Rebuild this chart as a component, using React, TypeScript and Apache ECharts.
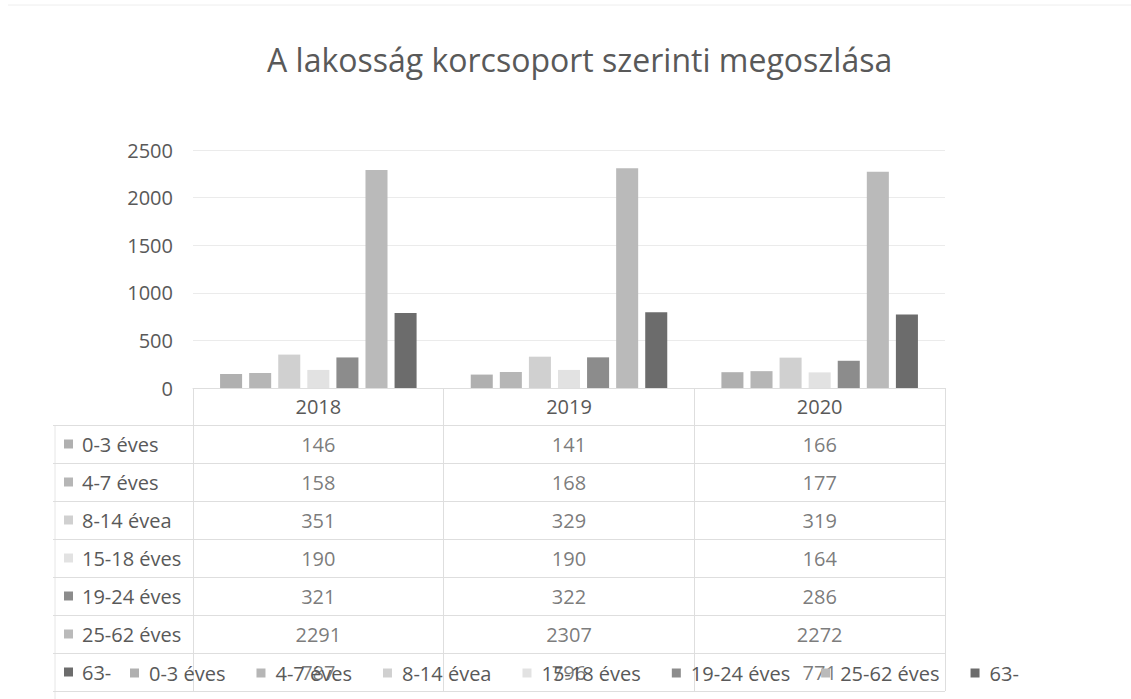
import React, { useEffect, useRef } from "react";
import * as echarts from "echarts";

const years = ["2018", "2019", "2020"];
const groups = ["0-3 éves", "4-7 éves", "8-14 évea", "15-18 éves", "19-24 éves", "25-62 éves", "63-"];
const g0_3 = [146, 141, 166];
const g4_7 = [158, 168, 177];
const g8_14 = [351, 329, 319];
const g15_18 = [190, 190, 164];
const g19_24 = [321, 322, 286];
const g25_62 = [2291, 2307, 2272];
const g63 = [787, 796, 771];
const groupValues = [g0_3, g4_7, g8_14, g15_18, g19_24, g25_62, g63];
const yTicks = { min: 0, max: 2500, interval: 500 };
const colors = ["#b0b0b0", "#b6b6b6", "#d0d0d0", "#e2e2e2", "#8c8c8c", "#bababa", "#6c6c6c"];

const FONT = "Open Sans";
const TXT = "#595959";
const LINE = "#dedede";
const FS = 20;

export default function App() {
  const ref = useRef<HTMLDivElement>(null);
  useEffect(() => {
    if (!ref.current) return;
    const chart = echarts.init(ref.current, null, { renderer: "svg" });
    const rich: any = {
      t: { fontSize: FS, color: TXT, fontFamily: FONT, padding: [0, 0, 0, 9] },
    };
    colors.forEach((c, i) => {
      rich["m" + i] = { width: 9, height: 9, backgroundColor: c };
    });
    const cellData: any[] = [];
    groupValues.forEach((arr, r) => {
      arr.forEach((v, c) => cellData.push([c, r, v]));
    });
    chart.setOption({
      animation: false,
      textStyle: { fontFamily: FONT },
      title: {
        text: "A lakosság korcsoport szerinti megoszlása",
        left: 262,
        top: 38,
        textStyle: { fontSize: 32, fontWeight: "normal", color: TXT, fontFamily: FONT },
      },
      legend: {
        data: groups,
        left: 125,
        top: 658,
        itemWidth: 9,
        itemHeight: 9,
        itemGap: 31,
        icon: "rect",
        textStyle: { fontSize: FS, color: TXT, fontFamily: FONT, padding: [0, 0, 0, 5] },
      },
      grid: [
        { left: 193, right: 186, top: 150, bottom: 311 },
        { left: 193, right: 186, top: 425, bottom: 8 },
      ],
      xAxis: [
        {
          type: "category",
          gridIndex: 0,
          data: years,
          axisLine: { lineStyle: { color: LINE } },
          axisTick: { show: true, length: 37, alignWithLabel: false, lineStyle: { color: LINE } },
          axisLabel: { fontSize: FS, color: TXT, margin: 8, fontFamily: FONT },
        },
        {
          type: "category",
          gridIndex: 1,
          data: years,
          axisLine: { show: false },
          axisTick: { show: false },
          axisLabel: { show: false },
          splitLine: { show: true, lineStyle: { color: LINE } },
        },
      ],
      yAxis: [
        {
          type: "value",
          gridIndex: 0,
          min: yTicks.min,
          max: yTicks.max,
          interval: yTicks.interval,
          axisLine: { show: false },
          axisTick: { show: false },
          axisLabel: {
            fontSize: FS,
            color: TXT,
            margin: 20,
            fontFamily: FONT,
            formatter: (v: number) => String(v),
          },
          splitLine: { lineStyle: { color: "#ebebeb" } },
        },
        {
          type: "category",
          gridIndex: 1,
          data: groups,
          inverse: true,
          axisLine: { show: false },
          axisTick: { show: true, length: 140, lineStyle: { color: LINE } },
          axisLabel: {
            align: "left",
            margin: 129,
            formatter: (v: string, i: number) => `{m${i}|}{t|${v}}`,
            rich,
          },
          splitLine: { show: true, lineStyle: { color: LINE } },
        },
      ],
      graphic: [
        { type: "line", shape: { x1: 55, y1: 425, x2: 55, y2: 699 }, style: { stroke: "#e6e6e6", lineWidth: 1 } },
        { type: "line", shape: { x1: 8, y1: 5, x2: 1131, y2: 5 }, style: { stroke: "#eeeeee", lineWidth: 1 } },
      ],
      series: [
        ...groups.map((name, i) => ({
          name,
          type: "bar",
          xAxisIndex: 0,
          yAxisIndex: 0,
          data: groupValues[i],
          itemStyle: { color: colors[i] },
          barGap: "32%",
          barCategoryGap: "21.6%",
        })),
        {
          name: "table",
          type: "scatter",
          xAxisIndex: 1,
          yAxisIndex: 1,
          data: cellData,
          symbolSize: 1,
          itemStyle: { color: "transparent" },
          silent: true,
          label: {
            show: true,
            position: "inside",
            formatter: (p: any) => String(p.value[2]),
            fontSize: FS,
            color: TXT,
            fontFamily: FONT,
          },
        },
      ],
    });
    return () => chart.dispose();
  }, []);
  return (
    <div
      ref={ref}
      style={{ position: "absolute", left: 0, top: 0, width: 1131, height: 699, background: "#fff" }}
    />
  );
}
